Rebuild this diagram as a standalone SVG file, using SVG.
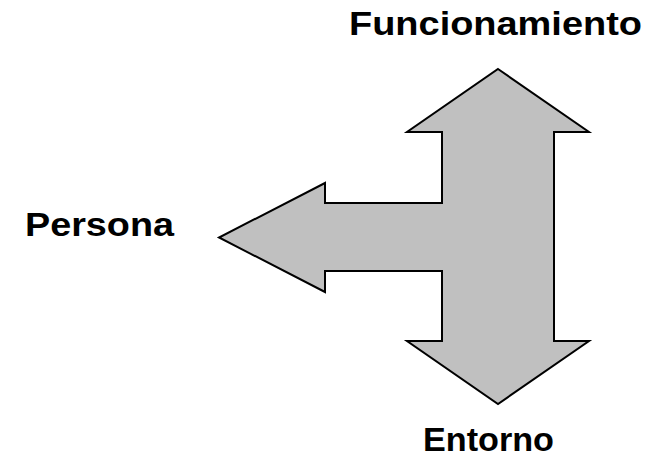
<svg xmlns="http://www.w3.org/2000/svg" width="659" height="463" viewBox="0 0 659 463">
<style>
.lbl{font-family:"Liberation Sans",Arial,sans-serif;font-weight:bold;font-size:32.5px;fill:#000}
</style>
<rect width="659" height="463" fill="#fff"/>
<g id="arrow">
<polygon points="498,69 589,132 554,132 554,341 589,341 498,404 407,341 442,341 442,271 325,271 325,292 219,237.5 325,183 325,203 442,203 442,132 407,132" fill="#c0c0c0" stroke="#000" stroke-width="2" stroke-linejoin="miter"/>
</g>
<g id="funcionamiento"><text class="lbl" x="349" y="34.5" textLength="293" lengthAdjust="spacingAndGlyphs">Funcionamiento</text></g>
<g id="persona"><text class="lbl" x="25" y="235.5" textLength="149" lengthAdjust="spacingAndGlyphs">Persona</text></g>
<g id="entorno"><text class="lbl" x="423" y="451" textLength="131" lengthAdjust="spacingAndGlyphs">Entorno</text></g>
</svg>
